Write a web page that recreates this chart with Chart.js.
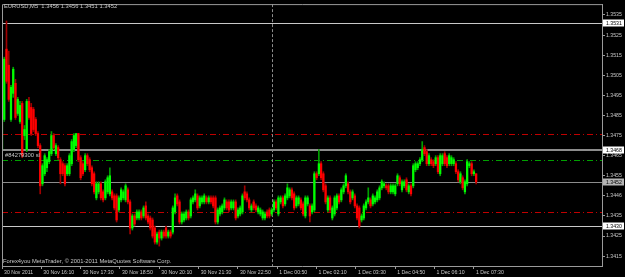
<!DOCTYPE html>
<html>
<head>
<meta charset="utf-8">
<script src="https://cdn.jsdelivr.net/npm/chart.js@4.4.1/dist/chart.umd.min.js"></script>
<style>
  html, body { margin: 0; padding: 0; background: #000; overflow: hidden; }
</style>
</head>
<body>
<canvas id="mt-chart" width="625" height="277"></canvas>
<script>
// EURUSD M5 candles (oldest first)
const opens = [
  1.3468,1.3483,1.3518,1.3510,1.3483,1.3496,1.3501,1.3486,1.3482,1.3491,
  1.3475,1.3468,1.3492,1.3489,1.3488,1.3483,1.3476,1.3470,1.3451,1.3456,
  1.3459,1.3462,1.3466,1.3475,1.3466,1.3469,1.3463,1.3461,1.3460,1.3456,
  1.3456,1.3461,1.3468,1.3470,1.3476,1.3464,1.3461,1.3458,1.3465,1.3463,
  1.3459,1.3456,1.3444,1.3447,1.3451,1.3447,1.3444,1.3447,1.3446,1.3447,
  1.3445,1.3445,1.3438,1.3443,1.3444,1.3443,1.3448,1.3442,1.3429,1.3435,
  1.3434,1.3434,1.3437,1.3435,1.3440,1.3435,1.3434,1.3433,1.3429,1.3422,
  1.3427,1.3424,1.3427,1.3429,1.3425,1.3427,1.3427,1.3437,1.3445,1.3442,
  1.3432,1.3433,1.3434,1.3437,1.3435,1.3442,1.3443,1.3445,1.3440,1.3442,
  1.3442,1.3444,1.3442,1.3444,1.3444,1.3444,1.3432,1.3436,1.3437,1.3439,
  1.3442,1.3442,1.3439,1.3439,1.3442,1.3435,1.3436,1.3437,1.3447,1.3446,
  1.3443,1.3438,1.3442,1.3440,1.3437,1.3436,1.3434,1.3434,1.3437,1.3438,
  1.3436,1.3438,1.3442,1.3436,1.3442,1.3444,1.3441,1.3444,1.3445,1.3448,
  1.3446,1.3440,1.3441,1.3443,1.3441,1.3435,1.3441,1.3440,1.3437,1.3438,
  1.3456,1.3456,1.3461,1.3456,1.3450,1.3438,1.3444,1.3434,1.3436,1.3439,
  1.3445,1.3443,1.3447,1.3450,1.3451,1.3447,1.3444,1.3445,1.3440,1.3439,
  1.3433,1.3434,1.3439,1.3442,1.3443,1.3441,1.3442,1.3443,1.3444,1.3449,
  1.3450,1.3450,1.3450,1.3447,1.3447,1.3446,1.3451,1.3454,1.3448,1.3450,
  1.3453,1.3447,1.3450,1.3450,1.3458,1.3459,1.3461,1.3463,1.3469,1.3467,
  1.3461,1.3463,1.3462,1.3461,1.3464,1.3456,1.3461,1.3466,1.3464,1.3461,
  1.3461,1.3461,1.3461,1.3457,1.3452,1.3454,1.3447,1.3451,1.3460,1.3461,
  1.3456,1.3456
];
const highs = [
  1.3483,1.3514,1.3532,1.3517,1.3500,1.3509,1.3503,1.3494,1.3492,1.3492,
  1.3480,1.3493,1.3494,1.3491,1.3489,1.3484,1.3477,1.3471,1.3461,1.3466,
  1.3464,1.3468,1.3477,1.3476,1.3471,1.3470,1.3464,1.3462,1.3461,1.3461,
  1.3466,1.3473,1.3476,1.3476,1.3476,1.3465,1.3462,1.3466,1.3466,1.3464,
  1.3460,1.3457,1.3452,1.3452,1.3452,1.3448,1.3453,1.3455,1.3459,1.3448,
  1.3446,1.3446,1.3445,1.3449,1.3448,1.3451,1.3449,1.3443,1.3436,1.3436,
  1.3438,1.3438,1.3438,1.3440,1.3442,1.3436,1.3435,1.3434,1.3430,1.3427,
  1.3428,1.3428,1.3428,1.3430,1.3428,1.3428,1.3440,1.3446,1.3446,1.3443,
  1.3437,1.3437,1.3438,1.3438,1.3444,1.3445,1.3448,1.3446,1.3445,1.3445,
  1.3446,1.3445,1.3445,1.3445,1.3445,1.3445,1.3439,1.3440,1.3441,1.3444,
  1.3443,1.3443,1.3443,1.3443,1.3443,1.3439,1.3440,1.3446,1.3450,1.3447,
  1.3444,1.3441,1.3443,1.3441,1.3440,1.3439,1.3438,1.3437,1.3438,1.3439,
  1.3439,1.3443,1.3443,1.3445,1.3445,1.3445,1.3446,1.3451,1.3449,1.3449,
  1.3447,1.3445,1.3445,1.3444,1.3442,1.3445,1.3445,1.3441,1.3441,1.3457,
  1.3457,1.3468,1.3462,1.3457,1.3451,1.3445,1.3445,1.3440,1.3445,1.3446,
  1.3446,1.3449,1.3451,1.3456,1.3452,1.3448,1.3448,1.3446,1.3441,1.3440,
  1.3436,1.3441,1.3443,1.3449,1.3444,1.3446,1.3445,1.3448,1.3450,1.3453,
  1.3452,1.3451,1.3451,1.3451,1.3451,1.3451,1.3456,1.3455,1.3453,1.3453,
  1.3454,1.3451,1.3451,1.3461,1.3462,1.3462,1.3464,1.3472,1.3470,1.3468,
  1.3466,1.3464,1.3463,1.3465,1.3465,1.3466,1.3466,1.3467,1.3465,1.3466,
  1.3465,1.3464,1.3462,1.3458,1.3457,1.3455,1.3453,1.3463,1.3462,1.3462,
  1.3458,1.3456
];
const lows = [
  1.3467,1.3482,1.3501,1.3492,1.3482,1.3494,1.3483,1.3485,1.3481,1.3464,
  1.3473,1.3467,1.3483,1.3475,1.3477,1.3475,1.3469,1.3446,1.3450,1.3455,
  1.3457,1.3461,1.3465,1.3468,1.3465,1.3463,1.3451,1.3455,1.3450,1.3455,
  1.3455,1.3460,1.3467,1.3469,1.3462,1.3453,1.3455,1.3457,1.3460,1.3457,
  1.3450,1.3446,1.3443,1.3446,1.3443,1.3442,1.3443,1.3446,1.3445,1.3443,
  1.3438,1.3432,1.3437,1.3442,1.3443,1.3442,1.3441,1.3426,1.3428,1.3430,
  1.3433,1.3433,1.3433,1.3434,1.3433,1.3431,1.3428,1.3424,1.3421,1.3421,
  1.3420,1.3423,1.3424,1.3424,1.3424,1.3424,1.3426,1.3436,1.3440,1.3431,
  1.3431,1.3432,1.3433,1.3433,1.3434,1.3441,1.3442,1.3438,1.3439,1.3441,
  1.3441,1.3441,1.3441,1.3441,1.3439,1.3431,1.3431,1.3435,1.3436,1.3438,
  1.3438,1.3437,1.3438,1.3438,1.3433,1.3434,1.3435,1.3436,1.3443,1.3442,
  1.3438,1.3437,1.3438,1.3437,1.3436,1.3435,1.3433,1.3433,1.3434,1.3434,
  1.3435,1.3437,1.3438,1.3435,1.3441,1.3439,1.3440,1.3443,1.3444,1.3443,
  1.3438,1.3439,1.3440,1.3438,1.3435,1.3434,1.3440,1.3432,1.3436,1.3437,
  1.3453,1.3455,1.3453,1.3447,1.3441,1.3437,1.3437,1.3433,1.3435,1.3438,
  1.3441,1.3442,1.3446,1.3449,1.3446,1.3441,1.3443,1.3439,1.3433,1.3429,
  1.3432,1.3433,1.3438,1.3441,1.3439,1.3440,1.3441,1.3442,1.3443,1.3448,
  1.3449,1.3448,1.3446,1.3446,1.3446,1.3445,1.3450,1.3450,1.3447,1.3449,
  1.3447,1.3446,1.3445,1.3449,1.3457,1.3458,1.3460,1.3462,1.3465,1.3460,
  1.3460,1.3460,1.3459,1.3460,1.3456,1.3455,1.3460,1.3460,1.3459,1.3460,
  1.3460,1.3460,1.3456,1.3452,1.3451,1.3448,1.3446,1.3450,1.3459,1.3455,
  1.3455,1.3451
];
const closes = [
  1.3482,1.3513,1.3502,1.3493,1.3499,1.3508,1.3484,1.3493,1.3490,1.3465,
  1.3478,1.3492,1.3484,1.3476,1.3478,1.3476,1.3470,1.3450,1.3460,1.3465,
  1.3463,1.3467,1.3475,1.3469,1.3470,1.3464,1.3456,1.3456,1.3451,1.3460,
  1.3465,1.3472,1.3475,1.3476,1.3463,1.3454,1.3456,1.3465,1.3461,1.3458,
  1.3451,1.3447,1.3451,1.3451,1.3444,1.3443,1.3452,1.3454,1.3455,1.3444,
  1.3439,1.3433,1.3444,1.3448,1.3447,1.3450,1.3442,1.3429,1.3435,1.3431,
  1.3437,1.3437,1.3434,1.3439,1.3434,1.3432,1.3429,1.3425,1.3422,1.3426,
  1.3424,1.3427,1.3425,1.3425,1.3427,1.3425,1.3439,1.3444,1.3441,1.3432,
  1.3436,1.3436,1.3437,1.3434,1.3443,1.3444,1.3446,1.3439,1.3444,1.3444,
  1.3445,1.3442,1.3444,1.3442,1.3440,1.3432,1.3438,1.3439,1.3440,1.3443,
  1.3439,1.3438,1.3442,1.3442,1.3434,1.3438,1.3439,1.3445,1.3444,1.3443,
  1.3439,1.3440,1.3439,1.3438,1.3439,1.3438,1.3437,1.3436,1.3435,1.3435,
  1.3438,1.3442,1.3439,1.3444,1.3444,1.3440,1.3445,1.3449,1.3448,1.3444,
  1.3439,1.3444,1.3444,1.3439,1.3436,1.3444,1.3444,1.3435,1.3440,1.3456,
  1.3454,1.3461,1.3454,1.3448,1.3442,1.3444,1.3438,1.3439,1.3444,1.3445,
  1.3442,1.3448,1.3450,1.3455,1.3447,1.3442,1.3447,1.3440,1.3434,1.3430,
  1.3435,1.3440,1.3442,1.3444,1.3440,1.3445,1.3444,1.3447,1.3449,1.3452,
  1.3451,1.3449,1.3447,1.3450,1.3450,1.3450,1.3455,1.3451,1.3452,1.3452,
  1.3448,1.3450,1.3446,1.3460,1.3461,1.3461,1.3463,1.3468,1.3466,1.3461,
  1.3465,1.3461,1.3460,1.3464,1.3457,1.3465,1.3465,1.3461,1.3460,1.3465,
  1.3464,1.3463,1.3457,1.3453,1.3456,1.3449,1.3452,1.3462,1.3461,1.3456,
  1.3457,1.3452
];

const xTickLabels = [
  '30 Nov 2011', '30 Nov 16:10', '30 Nov 17:30', '30 Nov 18:50', '30 Nov 20:10',
  '30 Nov 21:30', '30 Nov 22:50', '1 Dec 00:50', '1 Dec 02:10', '1 Dec 03:30',
  '1 Dec 04:50', '1 Dec 06:10', '1 Dec 07:30'
];
const yTickValues = [1.3535, 1.3525, 1.3515, 1.3505, 1.3495, 1.3485, 1.3475,
                     1.3465, 1.3455, 1.3445, 1.3435, 1.3425, 1.3415];
const yTickLabels = ['1.3535', '1.3525', '1.3515', '1.3505', '1.3495', '1.3485', '1.3475',
                     '1.3465', '1.3455', '1.3446', '1.3435', '1.3425', '1.3415'];

// horizontal objects on the chart
const whiteLevels = [1.3531, 1.3430];
const orderLevel = 1.3468;
const bidLevel = 1.3452;
const redLevels = [1.3476, 1.3437];
const greenLevels = [1.3463];

const headerText = 'EURUSD,M5  1.3456 1.3456 1.3451 1.3452';
const footerText = 'Forex4you MetaTrader, \u00a9 2001-2011 MetaQuotes Software Corp.';
const orderText = '#84279300 sl';

// layout bits
const slotCount = 268;     // bar slots across the visible window (chart shift on the right)
const xTickStep = 17.5;    // bars between time labels
const dayBreakBar = 120;   // first bar of 1 Dec
const yMin = 1.34101, yMax = 1.35404;
const FONT = 'Liberation Sans';
const TXT = '#c8c8c8';

const isUp = opens.map((o, i) => closes[i] >= o);

const mtPlugin = {
  id: 'mt4',
  beforeDraw(chart) {
    const c = chart.ctx;
    c.save();
    c.fillStyle = '#000';
    c.fillRect(0, 0, chart.width, chart.height);
    c.restore();
  },
  beforeDatasetsDraw(chart) {
    const c = chart.ctx, a = chart.chartArea;
    const ys = chart.scales.y, xs = chart.scales.x;
    const hline = (v, color, width, dash) => {
      const y = Math.round(ys.getPixelForValue(v)) + (width % 2 ? 0.5 : 0);
      c.save();
      c.strokeStyle = color;
      c.lineWidth = width;
      c.setLineDash(dash || []);
      c.beginPath();
      c.moveTo(a.left, y);
      c.lineTo(a.right, y);
      c.stroke();
      c.restore();
    };
    redLevels.forEach(v => hline(v, '#c00000', 1, [6, 3, 1, 3]));
    greenLevels.forEach(v => hline(v, '#00a000', 1, [6, 3, 1, 3]));
    hline(orderLevel, '#8c8c8c', 2);
    hline(bidLevel, '#8c8c8c', 1);
    whiteLevels.forEach(v => hline(v, '#c8c8c8', 1));

    // day separator
    const x = Math.round(xs.getPixelForValue(dayBreakBar)) + 0.5;
    c.save();
    c.strokeStyle = '#8c8c8c';
    c.setLineDash([3, 2]);
    c.beginPath();
    c.moveTo(x, a.top);
    c.lineTo(x, a.bottom);
    c.stroke();
    c.restore();
  },
  afterDraw(chart) {
    const c = chart.ctx, a = chart.chartArea, ys = chart.scales.y;
    c.save();
    // frame
    c.strokeStyle = '#9a9a9a';
    c.lineWidth = 1;
    c.beginPath();
    c.moveTo(a.left + 0.5, a.bottom);
    c.lineTo(a.left + 0.5, a.top + 0.5);
    c.lineTo(a.right, a.top + 0.5);
    c.stroke();

    c.fillStyle = TXT;
    c.textBaseline = 'middle';
    c.textAlign = 'left';
    c.font = '5.8px "' + FONT + '"';
    c.fillText(headerText, 4, 6.5);
    c.fillText(footerText, 3, 261);
    c.fillText(orderText, 5, 155);

    // price boxes on the right scale
    const box = (v, bg) => {
      const y = Math.round(ys.getPixelForValue(v));
      c.fillStyle = bg;
      c.fillRect(a.right + 1, y - 3.5, 21, 7);
      c.fillStyle = '#000';
      c.font = '5.2px "' + FONT + '"';
      c.fillText(v.toFixed(4), a.right + 4, y + 0.3);
    };
    whiteLevels.forEach(v => box(v, '#ffffff'));
    box(orderLevel, '#ffffff');
    box(bidLevel, '#b4b4b4');
    c.restore();
  }
};

const chart = new Chart(document.getElementById('mt-chart'), {
  type: 'bar',
  data: {
    datasets: [
      {
        label: 'wick',
        data: highs.map((h, i) => ({ x: i, y: [lows[i], h] })),
        backgroundColor: isUp.map(u => u ? '#00a000' : '#a00000'),
        barThickness: 1,
        grouped: false,
        order: 2
      },
      {
        label: 'body',
        data: opens.map((o, i) => ({ x: i, y: [o, closes[i]] })),
        backgroundColor: isUp.map(u => u ? '#00ff00' : '#ff0000'),
        barThickness: 1.6,
        grouped: false,
        order: 1
      }
    ]
  },
  options: {
    responsive: false,
    animation: false,
    layout: { padding: { left: 2, top: 1, right: 0, bottom: 0 } },
    plugins: {
      legend: { display: false },
      tooltip: { enabled: false }
    },
    scales: {
      x: {
        type: 'linear',
        min: 0,
        max: slotCount - 1,
        offset: false,
        afterBuildTicks: s => { s.ticks = xTickLabels.map((t, k) => ({ value: k * xTickStep })); },
        afterFit: s => { s.height = 11; },
        ticks: {
          callback: (v, i) => xTickLabels[i],
          align: 'start',
          labelOffset: 2,
          padding: 0,
          maxRotation: 0,
          autoSkip: false,
          color: TXT,
          font: { family: FONT, size: 5.2 }
        },
        grid: { drawOnChartArea: false, offset: false, tickLength: 3, color: '#9a9a9a' },
        border: { color: '#9a9a9a' }
      },
      y: {
        position: 'right',
        min: yMin,
        max: yMax,
        afterBuildTicks: s => { s.ticks = yTickValues.map(v => ({ value: v })); },
        afterFit: s => { s.width = 23; },
        ticks: {
          callback: (v, i) => yTickLabels[i],
          padding: 1,
          color: TXT,
          font: { family: FONT, size: 5.2 }
        },
        grid: { drawOnChartArea: false, tickLength: 3, color: '#9a9a9a' },
        border: { color: '#9a9a9a' }
      }
    }
  },
  plugins: [mtPlugin]
});
</script>
</body>
</html>
